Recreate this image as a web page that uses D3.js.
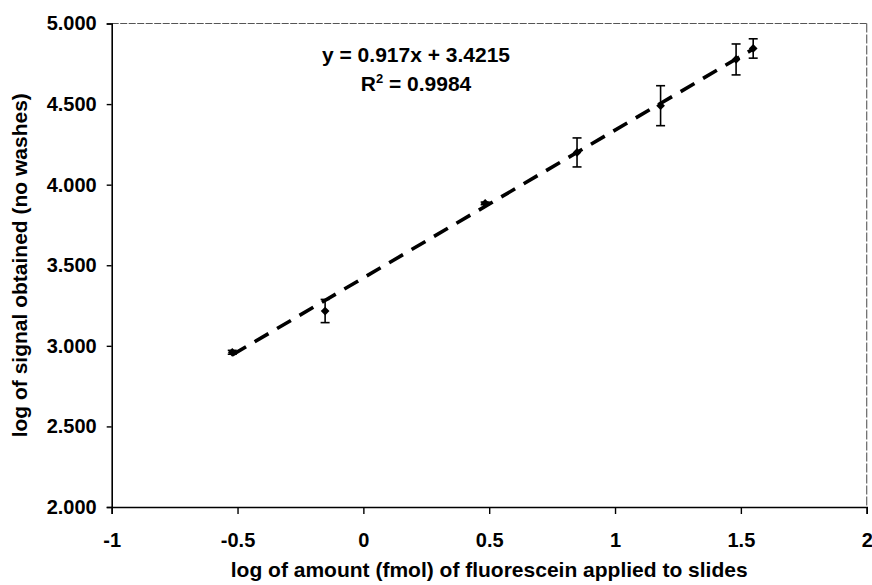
<!DOCTYPE html>
<html>
<head>
<meta charset="utf-8">
<script src="https://cdn.jsdelivr.net/npm/d3@7"></script>
<style>
  body { margin: 0; background: #fff; }
  text { font-family: "Liberation Sans", Arial, sans-serif; font-weight: bold; fill: #000; }
</style>
</head>
<body>
<svg id="chart" width="872" height="585"></svg>
<script>
// values
var logAmount = [-0.521, -0.152, 0.484, 0.849, 1.181, 1.481, 1.549];
var logSignal = [2.960, 3.216, 3.884, 4.200, 4.490, 4.777, 4.845];
var errBar = [0.012, 0.072, 0.008, 0.090, 0.124, 0.096, 0.060];
var xTicks = [-1, -0.5, 0, 0.5, 1, 1.5, 2];
var yTicks = [2, 2.5, 3, 3.5, 4, 4.5, 5];
var fitSlope = 0.917, fitIntercept = 3.4215, fitR2 = "0.9984";

var margin = {top: 23.5, right: 5.3, bottom: 78, left: 111.7},
    width = 872 - margin.left - margin.right,
    height = 585 - margin.top - margin.bottom;

var svg = d3.select("#chart");
var g = svg.append("g")
    .attr("transform", "translate(" + margin.left + "," + margin.top + ")");

var x = d3.scaleLinear().domain([-1, 2]).range([0, width]);
var y = d3.scaleLinear().domain([2, 5]).range([height, 0]);

var points = logAmount.map(function(d, i) {
    return {x: d, y: logSignal[i], e: errBar[i]};
});

// top and right border (faint, broken looking)
g.append("line")
    .attr("x1", 0).attr("x2", width).attr("y1", 0).attr("y2", 0)
    .attr("stroke", "#555").attr("stroke-width", 1.2)
    .attr("stroke-dasharray", "7,1.5");
g.append("line")
    .attr("x1", width).attr("x2", width).attr("y1", 0).attr("y2", height)
    .attr("stroke", "#666").attr("stroke-width", 1.2)
    .attr("stroke-dasharray", "9,2");

// axes
var yAxis = g.append("g")
    .call(d3.axisLeft(y).tickValues(yTicks).tickSize(5).tickPadding(10)
        .tickFormat(d3.format(".3f")));
var xAxis = g.append("g")
    .attr("transform", "translate(0," + height + ")")
    .call(d3.axisBottom(x).tickValues(xTicks).tickSize(7).tickPadding(19)
        .tickFormat(function(d) { return String(d); }));

[yAxis, xAxis].forEach(function(ax) {
    ax.select(".domain").attr("stroke", "#000").attr("stroke-width", 1.6);
    ax.selectAll(".tick line").attr("stroke", "#000").attr("stroke-width", 1.4);
    ax.selectAll(".tick text")
        .style("font-family", "'Liberation Sans', Arial, sans-serif")
        .style("font-weight", "bold")
        .style("font-size", "20px")
        .attr("fill", "#000");
});

// trend line
var xMin = d3.min(logAmount), xMax = d3.max(logAmount);
g.append("line")
    .attr("x1", x(xMin)).attr("y1", y(fitSlope * xMin + fitIntercept))
    .attr("x2", x(xMax)).attr("y2", y(fitSlope * xMax + fitIntercept))
    .attr("stroke", "#000")
    .attr("stroke-width", 3.6)
    .attr("stroke-dasharray", "16,10");

// error bars
var bars = g.selectAll(".err").data(points).enter().append("g").attr("class", "err");
bars.append("line")
    .attr("x1", function(d) { return x(d.x); })
    .attr("x2", function(d) { return x(d.x); })
    .attr("y1", function(d) { return y(d.y + d.e); })
    .attr("y2", function(d) { return y(d.y - d.e); })
    .attr("stroke", "#000").attr("stroke-width", 1.6);
[1, -1].forEach(function(s) {
    bars.append("line")
        .attr("x1", function(d) { return x(d.x) - 4.5; })
        .attr("x2", function(d) { return x(d.x) + 4.5; })
        .attr("y1", function(d) { return y(d.y + s * d.e); })
        .attr("y2", function(d) { return y(d.y + s * d.e); })
        .attr("stroke", "#000").attr("stroke-width", 1.6);
});

// diamond markers
g.selectAll(".pt").data(points).enter().append("path")
    .attr("class", "pt")
    .attr("d", d3.symbol().type(d3.symbolSquare).size(38))
    .attr("transform", function(d) {
        return "translate(" + x(d.x) + "," + y(d.y) + ") rotate(45)";
    })
    .attr("fill", "#000");

// equation
var eq = svg.append("g").attr("transform", "translate(416,0)");
eq.append("text")
    .attr("y", 62)
    .attr("text-anchor", "middle")
    .style("font-size", "21px")
    .text("y = " + fitSlope + "x + " + fitIntercept);
var r2 = eq.append("text")
    .attr("y", 91)
    .attr("text-anchor", "middle")
    .style("font-size", "21px");
r2.append("tspan").text("R");
r2.append("tspan").attr("dy", -8).style("font-size", "13px").text("2");
r2.append("tspan").attr("dy", 8).text(" = " + fitR2);

// axis titles
svg.append("text")
    .attr("x", margin.left + width / 2)
    .attr("y", 577)
    .attr("text-anchor", "middle")
    .style("font-size", "21px")
    .text("log of amount (fmol) of fluorescein applied to slides");

svg.append("text")
    .attr("transform", "translate(27," + (margin.top + height / 2) + ") rotate(-90)")
    .attr("text-anchor", "middle")
    .style("font-size", "21px")
    .text("log of signal obtained (no washes)");
</script>
</body>
</html>
